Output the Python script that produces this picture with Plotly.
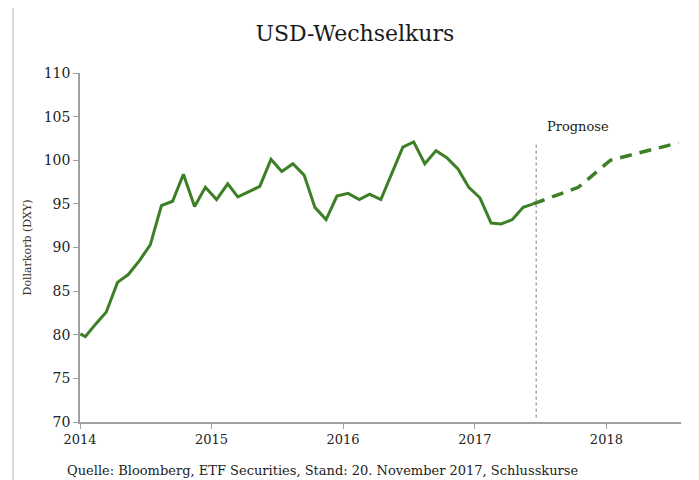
import plotly.graph_objects as go

# Historic DXY values (monthly)
hist_dates = ["2014-01-02", "2014-01-16", "2014-02-15", "2014-03-15", "2014-04-15", "2014-05-15",
              "2014-06-15", "2014-07-15", "2014-08-15", "2014-09-15", "2014-10-15", "2014-11-15",
              "2014-12-15", "2015-01-15", "2015-02-15", "2015-03-15", "2015-04-15", "2015-05-15",
              "2015-06-15", "2015-07-15", "2015-08-15", "2015-09-15", "2015-10-15", "2015-11-15",
              "2015-12-15", "2016-01-15", "2016-02-15", "2016-03-15", "2016-04-15", "2016-05-15",
              "2016-06-15", "2016-07-15", "2016-08-15", "2016-09-15", "2016-10-15", "2016-11-15",
              "2016-12-15", "2017-01-15", "2017-02-15", "2017-03-15", "2017-04-15", "2017-05-15",
              "2017-06-12"]
hist_values = [80.1, 79.8, 81.3, 82.6, 86.0, 86.9,
               88.5, 90.3, 94.8, 95.3, 98.4, 94.7,
               96.9, 95.5, 97.3, 95.8, 96.4, 97.0,
               100.1, 98.7, 99.6, 98.3, 94.6, 93.2,
               95.9, 96.2, 95.5, 96.1, 95.5, 98.5,
               101.5, 102.1, 99.6, 101.1, 100.3, 99.0,
               96.9, 95.7, 92.8, 92.7, 93.2, 94.6,
               95.0]

# Forecast ("Prognose")
fc_dates = ["2017-06-12", "2017-10-15", "2018-01-12", "2018-07-20"]
fc_values = [95.0, 96.9, 100.0, 102.0]

forecast_start = "2017-06-20"
x_range = ["2014-01-01", "2018-07-27"]
y_ticks = [70, 75, 80, 85, 90, 95, 100, 105, 110]
x_ticks = ["2014-01-01", "2015-01-01", "2016-01-01", "2017-01-01", "2018-01-01"]
x_ticklabels = ["2014", "2015", "2016", "2017", "2018"]

GREEN = "#3d7f26"
FONT = "DejaVu Serif"

fig = go.Figure()
fig.add_trace(go.Scatter(x=hist_dates, y=hist_values, mode="lines",
                         line=dict(color=GREEN, width=3), showlegend=False))
fig.add_trace(go.Scatter(x=fc_dates, y=fc_values, mode="lines",
                         line=dict(color=GREEN, width=3.5, dash="12px,8px"), showlegend=False))

fig.add_shape(type="line", x0=forecast_start, x1=forecast_start, y0=70.5, y1=102.0,
              xref="x", yref="y", line=dict(color="#777777", width=1, dash="dot"))
# left frame line
fig.add_shape(type="line", x0=-0.1115, x1=-0.1115, y0=-0.17, y1=1.21,
              xref="paper", yref="paper", line=dict(color="#b0b0b0", width=1))

fig.add_annotation(x="2017-07-15", y=103.9, xref="x", yref="y", text="Prognose",
                   showarrow=False, xanchor="left", yanchor="middle",
                   font=dict(family=FONT, size=13, color="#222222"))

fig.add_annotation(x=-0.025, y=-0.138, xref="paper", yref="paper",
                   text="Quelle: Bloomberg, ETF Securities, Stand: 20. November 2017, Schlusskurse",
                   showarrow=False, xanchor="left", yanchor="middle",
                   font=dict(family=FONT, size=13, color="#222222"))

fig.update_layout(
    width=691, height=472,
    margin=dict(l=72, r=18, t=65, b=58, autoexpand=False),
    paper_bgcolor="white", plot_bgcolor="white",
    title=dict(text="USD-Wechselkurs", x=0.502, xanchor="center", y=0.947, yanchor="middle",
               font=dict(family=FONT, size=22, color="#1a1a1a")),
    font=dict(family=FONT, color="#333333"),
)
fig.update_xaxes(type="date", range=x_range, tickvals=x_ticks, ticktext=x_ticklabels,
                 automargin=False,
                 showgrid=False, zeroline=False, showline=True, linecolor="#a0a0a0", linewidth=1.5,
                 ticks="outside", ticklen=5, tickcolor="#a0a0a0",
                 tickfont=dict(family=FONT, size=13, color="#222222"))
fig.update_yaxes(range=[70, 110], tickvals=y_ticks, showgrid=False, zeroline=False,
                 automargin=False,
                 showline=True, linecolor="#a0a0a0", linewidth=1.5,
                 ticks="outside", ticklen=5, tickcolor="#a0a0a0",
                 tickfont=dict(family=FONT, size=14, color="#222222"),
                 title=dict(text="Dollarkorb (DXY)", standoff=10,
                            font=dict(family=FONT, size=11, color="#333333")))

fig.write_html("out.html")
